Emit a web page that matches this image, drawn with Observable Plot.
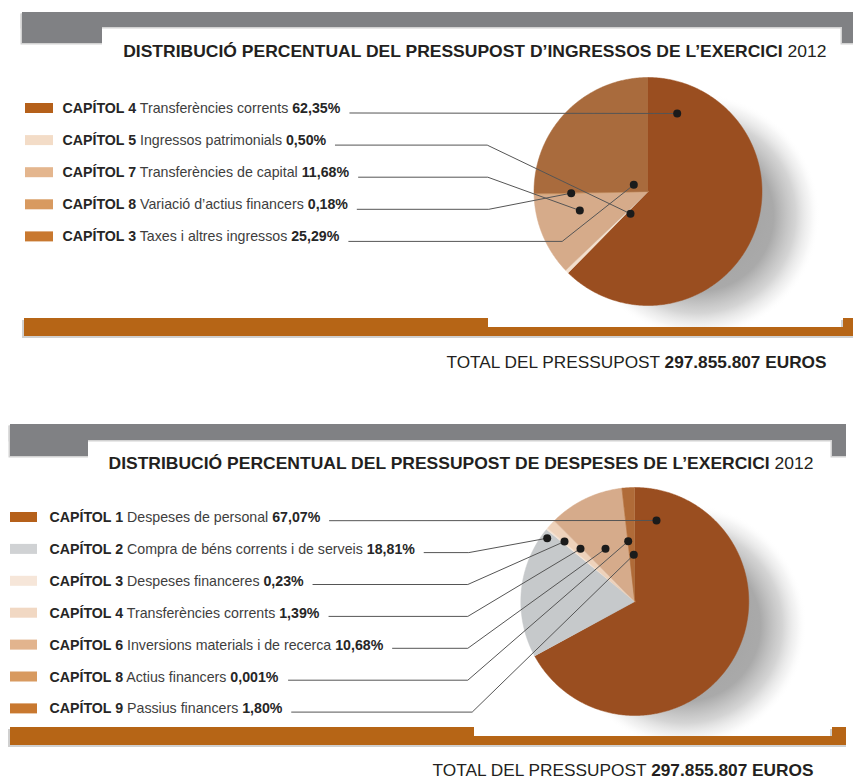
<!DOCTYPE html>
<html>
<head>
<meta charset="utf-8">
<script src="https://cdn.jsdelivr.net/npm/d3@7"></script>
<script src="https://cdn.jsdelivr.net/npm/@observablehq/plot@0.6"></script>
<style>
  html, body { margin: 0; padding: 0; background: #fff; }
  #chart svg { display: block; }
</style>
</head>
<body>
<div id="chart"></div>
<script>
// ---------------- DATA ----------------
const incomeTitle = "DISTRIBUCIÓ PERCENTUAL DEL PRESSUPOST D’INGRESSOS DE L’EXERCICI";
const expenseTitle = "DISTRIBUCIÓ PERCENTUAL DEL PRESSUPOST DE DESPESES DE L’EXERCICI";
const yearLabel = "2012";
const totalLabel = "TOTAL DEL PRESSUPOST";
const totalValue = "297.855.807 EUROS";

const incomeChapters = ["CAPÍTOL 4", "CAPÍTOL 5", "CAPÍTOL 7", "CAPÍTOL 8", "CAPÍTOL 3"];
const incomeNames = ["Transferències corrents", "Ingressos patrimonials", "Transferències de capital", "Variació d’actius financers", "Taxes i altres ingressos"];
const incomeValues = [62.35, 0.50, 11.68, 0.18, 25.29];
const incomePctLabels = ["62,35%", "0,50%", "11,68%", "0,18%", "25,29%"];
const incomePieColors = ["#9a4e20", "#f2dfcd", "#d6ab8a", "#d0965f", "#a96b3d"];
const incomeKeyColors = ["#b5601a", "#f3dcc7", "#e4b68e", "#d89a60", "#c8782f"];

const expenseChapters = ["CAPÍTOL 1", "CAPÍTOL 2", "CAPÍTOL 3", "CAPÍTOL 4", "CAPÍTOL 6", "CAPÍTOL 8", "CAPÍTOL 9"];
const expenseNames = ["Despeses de personal", "Compra de béns corrents i de serveis", "Despeses financeres", "Transferències corrents", "Inversions materials i de recerca", "Actius financers", "Passius financers"];
const expenseValues = [67.07, 18.81, 0.23, 1.39, 10.68, 0.001, 1.80];
const expensePctLabels = ["67,07%", "18,81%", "0,23%", "1,39%", "10,68%", "0,001%", "1,80%"];
const expensePieColors = ["#9a4e20", "#c6c9cb", "#f3e2d4", "#eed2bb", "#d6ab8b", "#d0965f", "#b06b38"];
const expenseKeyColors = ["#b5601a", "#d0d2d4", "#f6e6d9", "#f1d8c3", "#e2b48e", "#d89a60", "#c8782f"];

// ---------------- LAYOUT (pixels) ----------------
const W = 853, H = 778;
const layouts = [
  {
    band: {x1: 22, x2: 853, y1: 12, y2: 27, tabLx: 102, tabRx: 842, tabY: 43},
    title: {x1: 122.7, x2: 826, y: 51.5},
    key: {x: 25, w: 28, h: 10, textX: 62, y0: 108, step: 32.1, lineDy: 4.5, gap: 9},
    pie: {cx: 647.5, cy: 191, r: 114},
    anchors: [[29.2, -78], [-17.5, 22.3], [-68.2, 19], [-76.8, 1.7], [-14.2, -6.7]],
    bends: [null, 486.7, 487.3, 488.3, 561.7],
    bar: {x1: 24, x2: 853, y1: 318, y2: 336, stepX: 488, thinY: 327, tabRx: 843},
    total: {x1: 446, x2: 826, y: 362}
  },
  {
    band: {x1: 10, x2: 846, y1: 424, y2: 440, tabLx: 88, tabRx: 832, tabY: 456},
    title: {x1: 108, x2: 813, y: 463.5},
    key: {x: 10, w: 27, h: 10, textX: 49, y0: 517, step: 31.9, lineDy: 3.2, gap: 9},
    pie: {cx: 634.3, cy: 601, r: 114},
    anchors: [[21.7, -81], [-87.6, -63.3], [-70.3, -60], [-54.3, -52.7], [-29.3, -52.7], [-6.6, -60.3], [-1, -46.7]],
    bends: [null, 468.3, 467.3, 467.3, 467.3, 467.3, 471.7],
    bar: {x1: 10, x2: 846, y1: 727, y2: 745, stepX: 474, thinY: 736, tabRx: 832},
    total: {x1: 432, x2: 813, y: 770}
  }
];

const charts = [
  {title: incomeTitle, chapters: incomeChapters, names: incomeNames, values: incomeValues, pct: incomePctLabels, pieColors: incomePieColors, keyColors: incomeKeyColors, L: layouts[0]},
  {title: expenseTitle, chapters: expenseChapters, names: expenseNames, values: expenseValues, pct: expensePctLabels, pieColors: expensePieColors, keyColors: expenseKeyColors, L: layouts[1]}
];

// ---------------- STYLE ----------------
const keyFontSize = 14.2;
const keyFont = "'Liberation Sans', Arial, Helvetica, sans-serif";
const headFont = "'Liberation Sans', Arial, Helvetica, sans-serif";
const headFontSize = 16.5;
const grayBand = "#808184";
const orangeBar = "#b66516";

// text measurement for leader line starts
const ctx = document.createElement("canvas").getContext("2d");
function measure(str, bold) {
  ctx.font = `${bold ? "bold " : ""}${keyFontSize}px ${keyFont}`;
  return ctx.measureText(str).width;
}

// ---------------- BUILD MARK DATA ----------------
const rects = [], slices = [], leaders = [], dots = [], keyRows = [], headTexts = [], shadows = [];

charts.forEach((c, ci) => {
  const L = c.L;
  const b = L.band;
  [[b.x1, b.x2, b.y1, b.y2], [b.x1, b.tabLx, b.y1, b.tabY], [b.tabRx, b.x2, b.y1, b.tabY]].forEach(([x1, x2, y1, y2]) => {
    rects.push({x1: x1 - 1.5, x2: x2, y1: y1 + 1.5, y2: y2 + 1.5, fill: "#d2d2d2", layer: 0});
    rects.push({x1, x2, y1, y2, fill: grayBand, layer: 1});
  });
  const o = L.bar;
  [[o.x1, o.stepX, o.y1, o.y2], [o.stepX, o.tabRx, o.thinY, o.y2], [o.tabRx, o.x2, o.y1, o.y2]].forEach(([x1, x2, y1, y2]) => {
    rects.push({x1: x1 - 2, x2: x2, y1: y1 + 2, y2: y2 + 2, fill: "#d0d0d0", layer: 0});
    rects.push({x1, x2, y1, y2, fill: orangeBar, layer: 1});
  });

  // pie slices from the values
  const arcs = d3.pie().sort(null).value(d => d)(c.values);
  arcs.forEach((a, i) => {
    const k = `c${ci}-s${i}`;
    const n = Math.max(2, Math.ceil((a.endAngle - a.startAngle) / (Math.PI / 360)));
    slices.push({x: L.pie.cx, y: L.pie.cy, k, fill: c.pieColors[i]});
    for (let j = 0; j <= n; j++) {
      const t = a.startAngle + (a.endAngle - a.startAngle) * j / n;
      slices.push({x: L.pie.cx + L.pie.r * Math.sin(t), y: L.pie.cy - L.pie.r * Math.cos(t), k, fill: c.pieColors[i]});
    }
  });
  shadows.push({x: L.pie.cx + 50, y: L.pie.cy + 24});

  c.chapters.forEach((ch, i) => {
    const y = L.key.y0 + i * L.key.step;
    const mid = " " + c.names[i] + " ";
    const w = measure(ch, true) + measure(mid, false) + measure(c.pct[i], true);
    keyRows.push({
      x1: L.key.x, x2: L.key.x + L.key.w, y1: y - L.key.h / 2, y2: y + L.key.h / 2,
      fill: c.keyColors[i], tx: L.key.textX, ty: y,
      label: `*${ch}|${mid}|*${c.pct[i]}`
    });
    const ly = y + L.key.lineDy;
    const ax = L.pie.cx + L.anchors[i][0], ay = L.pie.cy + L.anchors[i][1];
    const k = `c${ci}-l${i}`;
    leaders.push({x: L.key.textX + w + L.key.gap, y: ly, k});
    if (L.bends[i] != null) leaders.push({x: L.bends[i], y: ly, k});
    leaders.push({x: ax, y: ay, k});
    dots.push({x: ax, y: ay});
  });

  headTexts.push({x: L.title.x2, y: L.title.y, label: `*${c.title}| ${yearLabel}`, len: L.title.x2 - L.title.x1});
  headTexts.push({x: L.total.x2, y: L.total.y, label: `${totalLabel} |*${totalValue}`, len: L.total.x2 - L.total.x1});
});

// ---------------- PLOT ----------------
const plot = Plot.plot({
  width: W, height: H,
  margin: 0,
  x: {type: "linear", domain: [0, W], range: [0, W], axis: null},
  y: {type: "linear", domain: [0, H], range: [0, H], axis: null},
  color: {type: "identity"},
  style: {background: "#fff", overflow: "visible"},
  marks: [
    Plot.dot(shadows, {x: "x", y: "y", r: 122, fill: "url(#pieShadow)", stroke: "none"}),
    Plot.rect(rects.filter(d => d.layer === 0), {x1: "x1", x2: "x2", y1: "y1", y2: "y2", fill: "fill"}),
    Plot.rect(rects.filter(d => d.layer === 1), {x1: "x1", x2: "x2", y1: "y1", y2: "y2", fill: "fill"}),
    Plot.line(slices, {x: "x", y: "y", z: "k", fill: "fill", stroke: "fill", strokeWidth: 0.5, curve: "linear"}),
    Plot.rect(keyRows, {x1: "x1", x2: "x2", y1: "y1", y2: "y2", fill: "fill"}),
    Plot.text(keyRows, {x: "tx", y: "ty", text: "label", textAnchor: "start", lineAnchor: "middle", fontSize: keyFontSize, fontFamily: keyFont, fill: "#3e3e3e"}),
    Plot.line(leaders, {x: "x", y: "y", z: "k", stroke: "#555", strokeWidth: 1, curve: "linear"}),
    Plot.dot(dots, {x: "x", y: "y", r: 4, fill: "#1b1b1b", stroke: "none"}),
    Plot.text(headTexts, {x: "x", y: "y", text: "label", textAnchor: "end", lineAnchor: "middle", fontSize: headFontSize, fontFamily: headFont, fill: "#231f20"})
  ]
});

const NS = "http://www.w3.org/2000/svg";
const defs = document.createElementNS(NS, "defs");
defs.innerHTML = `
  <radialGradient id="pieShadow" cx="0.5" cy="0.5" r="0.5">
    <stop offset="0" stop-color="#999" stop-opacity="0.95"/>
    <stop offset="0.62" stop-color="#a0a0a0" stop-opacity="0.9"/>
    <stop offset="0.8" stop-color="#b8b8b8" stop-opacity="0.6"/>
    <stop offset="0.92" stop-color="#dcdcdc" stop-opacity="0.3"/>
    <stop offset="1" stop-color="#fff" stop-opacity="0"/>
  </radialGradient>`;
plot.insertBefore(defs, plot.firstChild);

// headings: the last text group; fitted to their width
const textGroups = [...plot.querySelectorAll('g[aria-label="text"]')];
const headGroup = textGroups[textGroups.length - 1];

// mixed-weight texts: "*" marks a bold run, "|" separates runs
plot.querySelectorAll("text").forEach(t => {
  const s = t.textContent;
  if (!s.includes("|")) return;
  const isHead = headGroup && headGroup.contains(t);
  t.textContent = "";
  s.split("|").forEach(part => {
    const ts = document.createElementNS(NS, "tspan");
    const bold = part.startsWith("*");
    ts.textContent = bold ? part.slice(1) : part;
    ts.setAttribute("font-weight", bold ? "bold" : "normal");
    ts.setAttribute("fill", isHead ? "#231f20" : (bold ? "#262626" : "#3e3e3e"));
    t.appendChild(ts);
  });
});
if (headGroup) {
  headGroup.querySelectorAll("text").forEach((t, i) => {
    t.setAttribute("textLength", headTexts[i].len);
    t.setAttribute("lengthAdjust", "spacingAndGlyphs");
  });
}

document.getElementById("chart").appendChild(plot);
</script>
</body>
</html>
